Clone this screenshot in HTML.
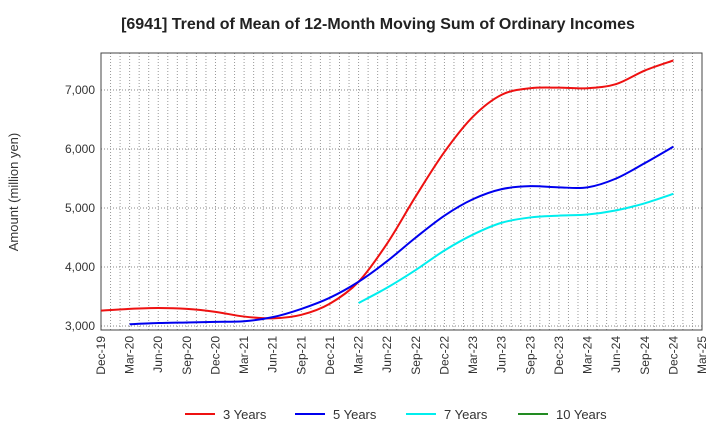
<!DOCTYPE html>
<html><head><meta charset="utf-8"><style>
body{margin:0;background:#fff;font-family:"Liberation Sans",sans-serif;}
</style></head><body>
<svg id="c" width="720" height="440" xmlns="http://www.w3.org/2000/svg" font-family="Liberation Sans, sans-serif">
<text x="378" y="29" text-anchor="middle" font-size="16" font-weight="bold" fill="#222">[6941]  Trend of Mean of 12-Month Moving Sum of Ordinary Incomes</text>
<text transform="translate(18,192) rotate(-90)" text-anchor="middle" font-size="13" fill="#333">Amount (million yen)</text>
<g id="grid"></g><g id="axes"></g><g id="series"></g><g id="legend"></g>
</svg>
<script>
const xLabels=["Dec-19","Mar-20","Jun-20","Sep-20","Dec-20","Mar-21","Jun-21","Sep-21","Dec-21","Mar-22","Jun-22","Sep-22","Dec-22","Mar-23","Jun-23","Sep-23","Dec-23","Mar-24","Jun-24","Sep-24","Dec-24","Mar-25"];
const yTicks=[3000,4000,5000,6000,7000];
const s3=[3260,3290,3305,3290,3240,3160,3130,3190,3380,3750,4400,5200,5950,6550,6920,7030,7040,7030,7100,7330,7500];
const s5=[null,3030,3050,3060,3070,3080,3150,3290,3480,3750,4100,4500,4870,5150,5320,5370,5350,5350,5500,5760,6040];
const s7=[null,null,null,null,null,null,null,null,null,3390,3650,3950,4280,4550,4750,4840,4870,4890,4960,5080,5240];
const s10=[];
const L=101,R=702,T=53,B=330;
const xq=q=>L+q*(R-L)/21;
const yv=v=>326-(v-3000)*0.059;
const NS="http://www.w3.org/2000/svg";
function mk(tag,attrs,parent){const e=document.createElementNS(NS,tag);for(const k in attrs)e.setAttribute(k,attrs[k]);parent.appendChild(e);return e;}
const grid=document.getElementById('grid'),axes=document.getElementById('axes'),ser=document.getElementById('series'),leg=document.getElementById('legend');
for(let m=1;m<63;m++){const x=L+m*(R-L)/63;const g=mk('line',{x1:x,x2:x,y1:T,y2:B,stroke:'#999','stroke-dasharray':'1,2','stroke-width':1},grid);

}
yTicks.forEach(v=>{const g=mk('line',{x1:L,x2:R,y1:yv(v),y2:yv(v),stroke:'#888','stroke-dasharray':'1,2'},grid);


const t=mk('text',{x:L-6,y:yv(v)+4,'text-anchor':'end','font-size':12,fill:'#333'},axes);t.textContent=v.toLocaleString('en-US');

});
const fr=mk('rect',{x:L,y:T,width:R-L,height:B-T,fill:'none',stroke:'#444'},axes);


xLabels.forEach((s,i)=>{const x=xq(i);const t=mk('text',{transform:`translate(${x+4},${B+6}) rotate(-90)`,'text-anchor':'end','font-size':12,fill:'#333'},axes);t.textContent=s;

});
function path(arr){const p=[];arr.forEach((v,i)=>{if(v!=null)p.push([xq(i),yv(v)]);});if(p.length<2)return '';
let d=`M${p[0][0]},${p[0][1]}`;for(let i=0;i<p.length-1;i++){const a=p[Math.max(0,i-1)],b=p[i],c=p[i+1],e=p[Math.min(p.length-1,i+2)];
d+=` C${b[0]+(c[0]-a[0])/6},${b[1]+(c[1]-a[1])/6} ${c[0]-(e[0]-b[0])/6},${c[1]-(e[1]-b[1])/6} ${c[0]},${c[1]}`;}return d;}
const series=[[s3,'#ee1111','3 Years',185],[s5,'#0000ee','5 Years',295],[s7,'#00eeee','7 Years',406],[s10,'#228b22','10 Years',518]];
series.forEach(([arr,col,name,lx])=>{const d=path(arr);if(d){const p=mk('path',{d,fill:'none',stroke:col,'stroke-width':2},ser);

}
const l=mk('line',{x1:lx,x2:lx+30,y1:414,y2:414,stroke:col,'stroke-width':2},leg);


const t=mk('text',{x:lx+38,y:419,'font-size':13,fill:'#333'},leg);t.textContent=name;

});
</script>
</body></html>
